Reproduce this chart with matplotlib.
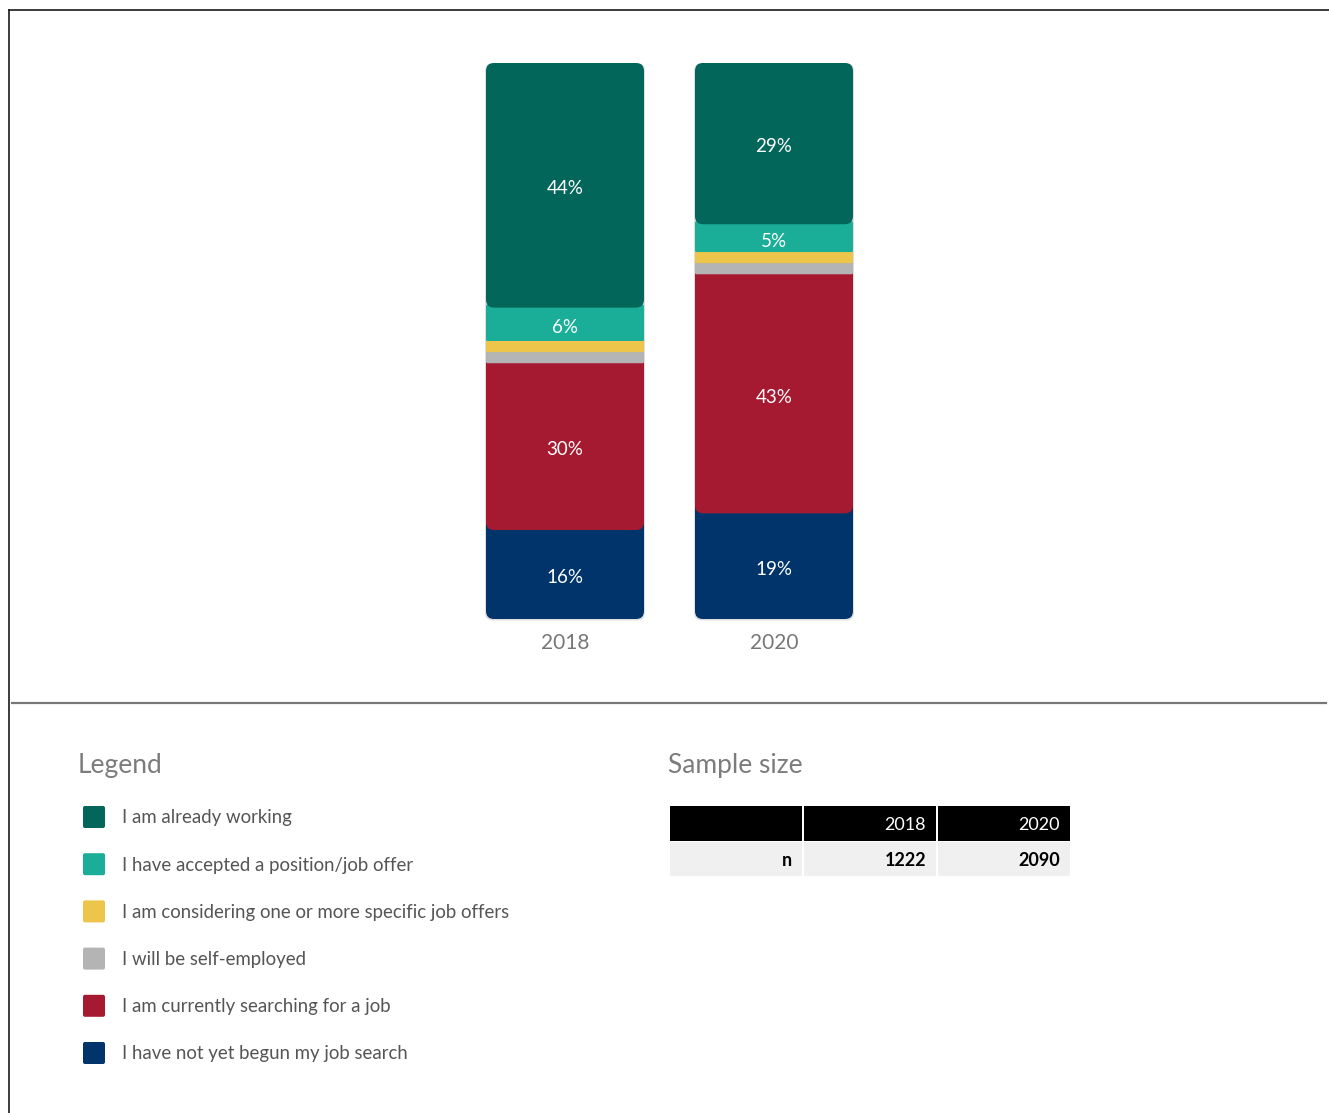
import numpy as np
import matplotlib
matplotlib.use("Agg")
import matplotlib.pyplot as plt
from matplotlib.patches import FancyBboxPatch, Rectangle

plt.rcParams['font.family'] = ['Lato', 'DejaVu Sans']

W, H = 1329, 1113

YEARS = ["2018", "2020"]
CATEGORIES = [
    "I have not yet begun my job search",
    "I am currently searching for a job",
    "I will be self-employed",
    "I am considering one or more specific job offers",
    "I have accepted a position/job offer",
    "I am already working",
]
COLORS = ["#00346a", "#a51931", "#b4b4b4", "#ecc54a", "#1aae98", "#02665a"]
# shares per category (bottom to top), one value per year
SHARES_2018 = [16, 30, 2, 2, 6, 44]
SHARES_2020 = [19, 43, 2, 2, 5, 29]
SHOW_LABEL = [True, True, False, False, True, True]

SAMPLE_ROW = "n"
SAMPLE_SIZES = [1222, 2090]


def px_box(x0, y0, x1, y1):
    """Figure fraction rect from pixel box measured from the top-left."""
    return [x0 / W, 1 - y1 / H, (x1 - x0) / W, (y1 - y0) / H]


def draw_bars(fig):
    ax = fig.add_axes(px_box(356, 63, 983, 619))
    ax.set_xlim(-1, 2)
    ax.set_ylim(0, 100)
    ax.axis("off")

    x_per_px = 3 / 627
    y_per_px = 100 / 556
    aspect = y_per_px / x_per_px
    width = 158 * x_per_px

    for i, shares in enumerate([SHARES_2018, SHARES_2020]):
        bottoms = np.concatenate([[0], np.cumsum(shares)[:-1]])
        total = float(np.sum(shares))
        n = len(shares)
        # soft shadow behind the whole stack
        ax.add_patch(FancyBboxPatch(
            (i - width / 2 - 1 * x_per_px, -1.5 * y_per_px),
            width + 2 * x_per_px, total + 1.5 * y_per_px,
            boxstyle="round,pad=0,rounding_size=%f" % (8 * x_per_px),
            mutation_aspect=aspect, clip_on=False,
            facecolor="#dedede", edgecolor="none", zorder=1))
        for k, (val, base) in enumerate(zip(shares, bottoms)):
            seg_px = val / y_per_px
            r_px = 8 if seg_px > 45 else 1.5
            ext = 0 if k == n - 1 else 2 * r_px * y_per_px
            patch = FancyBboxPatch(
                (i - width / 2, base), width, val + ext,
                boxstyle="round,pad=0,rounding_size=%f" % (r_px * x_per_px),
                mutation_aspect=aspect,
                facecolor=COLORS[k], edgecolor="none", zorder=2 + k)
            ax.add_patch(patch)
            if SHOW_LABEL[k]:
                ax.text(i, base + val / 2 - 0.6, "%d%%" % val, color="white",
                        ha="center", va="center", fontsize=13.5, zorder=20)
        ax.text(i, -2.6, YEARS[i], color="#777777", ha="center", va="top",
                fontsize=15)
    return ax


def draw_layout(fig):
    ov = fig.add_axes([0, 0, 1, 1], zorder=0)
    ov.set_xlim(0, W)
    ov.set_ylim(H, 0)
    ov.axis("off")

    # outer frame and separator
    ov.plot([8.5, W], [9.5, 9.5], color="#1a1a1a", lw=1.2)
    ov.plot([8.5, 8.5], [9.5, H], color="#1a1a1a", lw=1.2)
    ov.plot([12, 1326], [703, 703], color="#777777", lw=1.6)

    # legend
    ov.text(78, 766, "Legend", fontsize=19, color="#7c7c7c",
            va="center", ha="left")
    for j, k in enumerate(reversed(range(len(CATEGORIES)))):
        yc = 817 + j * 47.2
        ov.add_patch(FancyBboxPatch((83, yc - 11), 22, 22,
                                    boxstyle="round,pad=0,rounding_size=2",
                                    facecolor=COLORS[k], edgecolor="none"))
        ov.text(122, yc + 1, CATEGORIES[k], fontsize=13.4, color="#555555",
                va="center", ha="left")

    # sample size table
    ov.text(668, 766, "Sample size", fontsize=19, color="#7c7c7c",
            va="center", ha="left")
    cols = [(670, 802), (804, 936), (938, 1070)]
    for c, (x0, x1) in enumerate(cols):
        ov.add_patch(Rectangle((x0, 806), x1 - x0, 35, facecolor="black",
                               edgecolor="none"))
        ov.add_patch(Rectangle((x0, 842), x1 - x0, 34, facecolor="#f0f0f0",
                               edgecolor="none"))
        header = "" if c == 0 else YEARS[c - 1]
        cell = SAMPLE_ROW if c == 0 else str(SAMPLE_SIZES[c - 1])
        ov.text(x1 - 10, 825, header, color="white", fontsize=13,
                ha="right", va="center")
        ov.text(x1 - 10, 860, cell, color="black", fontsize=13,
                fontweight="bold", ha="right", va="center")


def main():
    fig = plt.figure(figsize=(W / 100, H / 100), dpi=100)
    fig.patch.set_facecolor("white")
    draw_layout(fig)
    draw_bars(fig)
    fig.savefig("out.png", dpi=100, facecolor="white")


if __name__ == '__main__':
    main()
